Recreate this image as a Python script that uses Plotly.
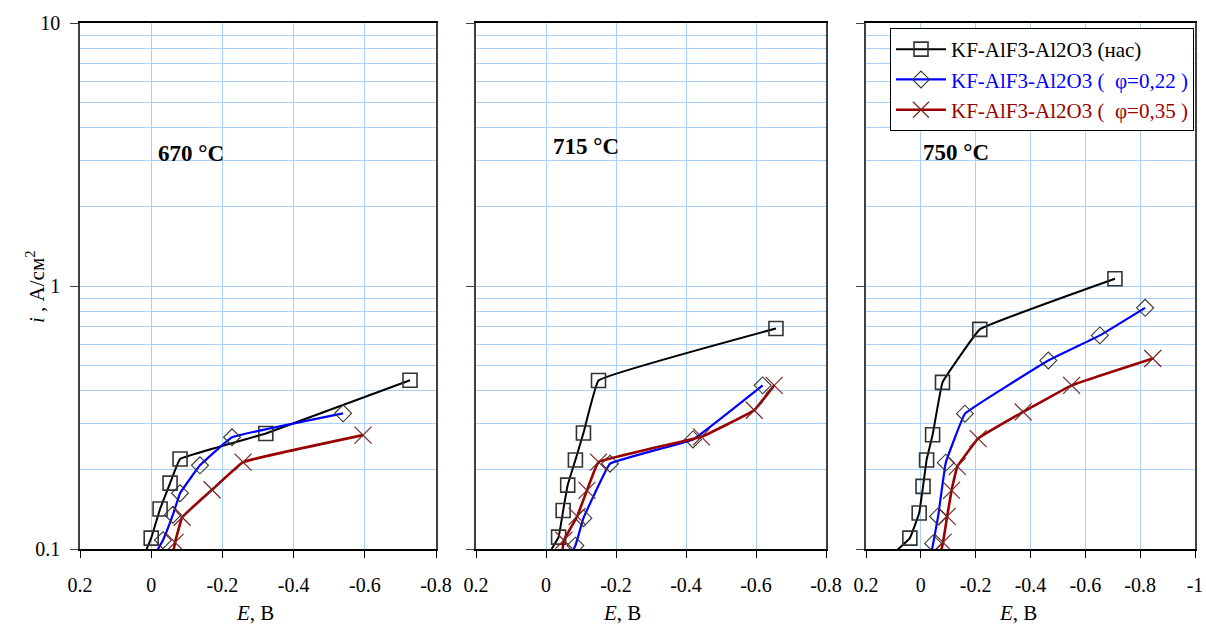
import plotly.graph_objects as go

# ---------------- data ----------------
series_names = ["KF-AlF3-Al2O3 (нас)", "KF-AlF3-Al2O3 (  φ=0,22 )", "KF-AlF3-Al2O3 (  φ=0,35 )"]
temps = ["670 °C", "715 °C", "750 °C"]

E_670_nas = [0.027, 0.0, -0.025, -0.053, -0.081, -0.322, -0.727]
i_670_nas = [0.09, 0.110, 0.142, 0.178, 0.220, 0.275, 0.438]
E_670_22 = [0.0, -0.033, -0.061, -0.081, -0.137, -0.227, -0.539]
i_670_22 = [0.09, 0.108, 0.135, 0.163, 0.208, 0.266, 0.328]
E_670_35 = [-0.058, -0.067, -0.087, -0.171, -0.258, -0.595]
i_670_35 = [0.09, 0.106, 0.132, 0.168, 0.214, 0.271]

E_715_nas = [0.005, -0.036, -0.049, -0.062, -0.084, -0.107, -0.150, -0.657]
i_715_nas = [0.09, 0.111, 0.140, 0.175, 0.218, 0.276, 0.437, 0.689]
E_715_22 = [-0.061, -0.084, -0.107, -0.183, -0.420, -0.619]
i_715_22 = [0.09, 0.103, 0.131, 0.211, 0.261, 0.419]
E_715_35 = [-0.044, -0.051, -0.089, -0.117, -0.150, -0.444, -0.595, -0.652]
i_715_35 = [0.09, 0.108, 0.133, 0.167, 0.214, 0.267, 0.337, 0.419]

E_750_nas = [0.131, 0.040, 0.006, -0.008, -0.021, -0.043, -0.079, -0.215, -0.708]
i_750_nas = [0.09, 0.110, 0.137, 0.173, 0.218, 0.272, 0.430, 0.684, 1.065]
E_750_22 = [-0.033, -0.045, -0.063, -0.091, -0.161, -0.465, -0.653, -0.818]
i_750_22 = [0.09, 0.105, 0.133, 0.213, 0.327, 0.521, 0.649, 0.826]
E_750_35 = [-0.066, -0.081, -0.096, -0.112, -0.133, -0.209, -0.373, -0.550, -0.846]
i_750_35 = [0.09, 0.106, 0.133, 0.167, 0.206, 0.263, 0.332, 0.419, 0.530]

x_ticks_12 = [0.2, 0.0, -0.2, -0.4, -0.6, -0.8]
x_text_12 = ["0.2", "0", "-0.2", "-0.4", "-0.6", "-0.8"]
x_ticks_3 = [0.2, 0.0, -0.2, -0.4, -0.6, -0.8, -1.0]
x_text_3 = ["0.2", "0", "-0.2", "-0.4", "-0.6", "-0.8", "-1"]
y_ticks = [0.1, 1, 10]
y_text = ["0.1", "1", "10"]

panels = [
    (E_670_nas, i_670_nas, E_670_22, i_670_22, E_670_35, i_670_35),
    (E_715_nas, i_715_nas, E_715_22, i_715_22, E_715_35, i_715_35),
    (E_750_nas, i_750_nas, E_750_22, i_750_22, E_750_35, i_750_35),
]

# ---------------- style ----------------
FONT = "Liberation Serif, Times New Roman, serif"
W, H = 1206, 626
GRID = "#a9d0f5"
AX = "#404040"
line_colors = ["#000000", "#0000ff", "#990000"]
text_colors = ["#000000", "#0000ff", "#990000"]
markers = [
    dict(symbol="square-open", size=14, color="#333333", line=dict(width=1.6, color="#333333")),
    dict(symbol="diamond-open", size=13, color="#333333", line=dict(width=1.1, color="#333333")),
    dict(symbol="x-thin-open", size=17, color="#7a2424", line=dict(width=1.2, color="#7a2424")),
]
line_widths = [2, 2.2, 2.6]

x_domains_px = [(80, 436), (476, 826), (866, 1195)]
y_top_px, y_bot_px = 23, 549

fig = go.Figure()
for p, data in enumerate(panels):
    ax = "" if p == 0 else str(p + 1)
    for s in range(3):
        E = data[2 * s]
        I = data[2 * s + 1]
        fig.add_trace(go.Scatter(
            x=E, y=I, mode="lines+markers",
            name=f"<span style='color:{text_colors[s]}'>{series_names[s]}</span>",
            line=dict(color=line_colors[s], width=line_widths[s], shape="spline", smoothing=0.2),
            marker=markers[s],
            cliponaxis=True,
            showlegend=(p == 2),
            xaxis="x" + ax, yaxis="y" + ax,
        ))

layout = dict(
    width=W, height=H,
    margin=dict(l=0, r=0, t=0, b=0),
    paper_bgcolor="white", plot_bgcolor="white",
    font=dict(family=FONT, size=20, color="black"),
    showlegend=True,
    legend=dict(
        x=890 / W, y=1 - 28 / H, xanchor="left", yanchor="top",
        bgcolor="white", bordercolor="black", borderwidth=1,
        font=dict(family=FONT, size=21),
        itemwidth=50, tracegroupgap=0,
    ),
)

annotations = []
for p in range(3):
    ax = "" if p == 0 else str(p + 1)
    x0, x1 = x_domains_px[p]
    xr = [0.2, -0.8] if p < 2 else [0.2, -1.0]
    tv = x_ticks_12 if p < 2 else x_ticks_3
    tt = x_text_12 if p < 2 else x_text_3
    layout["xaxis" + ax] = dict(
        domain=[x0 / W, x1 / W], range=xr, anchor="y" + ax, automargin=False,
        tickmode="array", tickvals=tv, ticktext=tt,
        showgrid=True, gridcolor=GRID, gridwidth=1.3,
        showline=True, linecolor="black", linewidth=1.5, mirror=True,
        ticks="outside", ticklen=7, tickcolor="black", tickwidth=1.3,
        ticklabelstandoff=10,
        tickfont=dict(family=FONT, size=20), zeroline=False,
    )
    layout["yaxis" + ax] = dict(
        domain=[1 - y_bot_px / H, 1 - y_top_px / H], type="log", range=[-1, 1],
        anchor="x" + ax, automargin=False,
        tickmode="array", tickvals=y_ticks, ticktext=y_text,
        showticklabels=(p == 0),
        showgrid=True, gridcolor=GRID, gridwidth=1.3,
        minor=dict(dtick="D1", showgrid=True, gridcolor=GRID, gridwidth=1.3, ticks=""),
        showline=True, linecolor=AX, linewidth=1.5, mirror=True,
        ticks="outside", ticklen=8, tickcolor=AX, tickwidth=1.3,
        ticklabelstandoff=6,
        tickfont=dict(family=FONT, size=20), zeroline=False,
    )

# x-axis titles
for cx in [255, 622, 1018]:
    annotations.append(dict(
        x=cx / W, y=1 - 613 / H, xref="paper", yref="paper",
        xanchor="center", yanchor="middle",
        text="<i>E</i>, В", showarrow=False, font=dict(family=FONT, size=21),
    ))
# y-axis title
annotations.append(dict(
    x=35 / W, y=1 - 287 / H, xref="paper", yref="paper",
    xanchor="center", yanchor="middle",
    text="<i>i</i> , А/см<sup>2</sup>", textangle=-90, showarrow=False,
    font=dict(family=FONT, size=21),
))
# temperature labels
for (cx, cy), t in zip([(191, 154), (586, 146), (956, 152)], temps):
    annotations.append(dict(
        x=cx / W, y=1 - cy / H, xref="paper", yref="paper",
        xanchor="center", yanchor="middle",
        text=f"<b>{t}</b>", showarrow=False, font=dict(family=FONT, size=23),
    ))
layout["annotations"] = annotations

fig.update_layout(**layout)
fig.write_html("out.html")
